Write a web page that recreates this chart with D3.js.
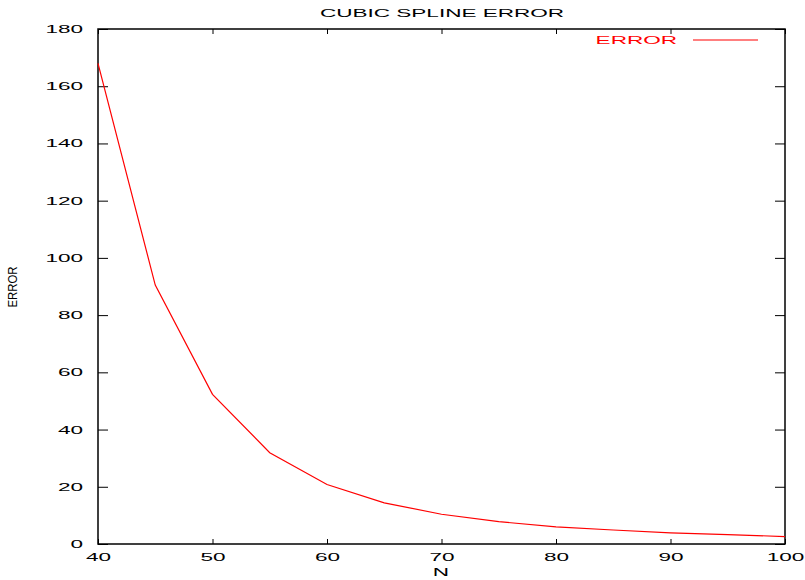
<!DOCTYPE html>
<html>
<head>
<meta charset="utf-8">
<script src="https://cdn.jsdelivr.net/npm/d3@7"></script>
<style>
  body { margin: 0; background: #fff; }
  svg text { font-family: "Liberation Sans", Arial, sans-serif; }
</style>
</head>
<body>
<svg id="chart" width="805" height="580"></svg>
<script>
// data
var nValues = [40, 45, 50, 55, 60, 65, 70, 75, 80, 85, 90, 95, 100];
var errorValues = [168.0, 90.5, 52.3, 31.9, 20.8, 14.4, 10.4, 7.8, 6.0, 4.9, 3.9, 3.3, 2.6];
var xTicks = [40, 50, 60, 70, 80, 90, 100];
var yTicks = [0, 20, 40, 60, 80, 100, 120, 140, 160, 180];

var svg = d3.select("#chart");
var margin = { left: 98, right: 20, top: 29, bottom: 36 };
var width = 805, height = 580;
var stretch = 2.05; // the horizontal text is drawn wide

var x = d3.scaleLinear()
    .domain([40, 100])
    .range([margin.left, width - margin.right]);
var y = d3.scaleLinear()
    .domain([0, 180])
    .range([height - margin.bottom, margin.top]);

// widen horizontal labels without moving their anchor
function widen(sel) {
    sel.selectAll("text").each(function () {
        var t = d3.select(this);
        var tx = +t.attr("x") || 0;
        t.attr("x", tx / stretch).attr("transform", "scale(" + stretch + ",1)");
    });
}

var xAxis = svg.append("g")
    .attr("transform", "translate(0," + y(0) + ")")
    .call(d3.axisBottom(x).tickValues(xTicks).tickSize(-5).tickPadding(9));
var yAxis = svg.append("g")
    .attr("transform", "translate(" + x(40) + ",0)")
    .call(d3.axisLeft(y).tickValues(yTicks).tickSize(-10).tickPadding(15));
// mirrored ticks
var topAxis = svg.append("g")
    .attr("transform", "translate(0," + y(180) + ")")
    .call(d3.axisTop(x).tickValues(xTicks).tickSize(-5).tickFormat(""));
var rightAxis = svg.append("g")
    .attr("transform", "translate(" + x(100) + ",0)")
    .call(d3.axisRight(y).tickValues(yTicks).tickSize(-10).tickFormat(""));

[xAxis, yAxis, topAxis, rightAxis].forEach(function (g) {
    g.select(".domain").remove();
    g.selectAll("line").attr("stroke", "#000").attr("stroke-width", 1);
    g.selectAll("text").attr("font-size", 11).attr("fill", "#000")
        .style("font-family", "'Liberation Sans', Arial, sans-serif");
});
widen(xAxis);
widen(yAxis);

// border
svg.append("rect")
    .attr("x", x(40)).attr("y", y(180))
    .attr("width", x(100) - x(40)).attr("height", y(0) - y(180))
    .attr("fill", "none").attr("stroke", "#000").attr("stroke-width", 1.5);

// data line
var line = d3.line()
    .x(function (d, i) { return x(nValues[i]); })
    .y(function (d) { return y(d); });
svg.append("path")
    .datum(errorValues)
    .attr("d", line)
    .attr("fill", "none")
    .attr("stroke", "#ff0000")
    .attr("stroke-width", 1.2);

// title
svg.append("text")
    .attr("transform", "translate(442,17) scale(" + stretch + ",1)")
    .attr("text-anchor", "middle")
    .attr("font-size", 11)
    .text("CUBIC SPLINE ERROR");

// axis titles
svg.append("text")
    .attr("transform", "translate(441,576) scale(" + stretch + ",1)")
    .attr("text-anchor", "middle")
    .attr("font-size", 11)
    .text("N");
svg.append("text")
    .attr("transform", "translate(17,287) rotate(-90) scale(0.95,1.1)")
    .attr("text-anchor", "middle")
    .attr("font-size", 12)
    .text("ERROR");

// legend
svg.append("text")
    .attr("transform", "translate(677,44) scale(" + stretch + ",1)")
    .attr("text-anchor", "end")
    .attr("font-size", 11)
    .attr("fill", "#ff0000")
    .text("ERROR");
svg.append("line")
    .attr("x1", 693).attr("x2", 758)
    .attr("y1", 40).attr("y2", 40)
    .attr("stroke", "#ff0000")
    .attr("stroke-width", 1.2);
</script>
</body>
</html>
